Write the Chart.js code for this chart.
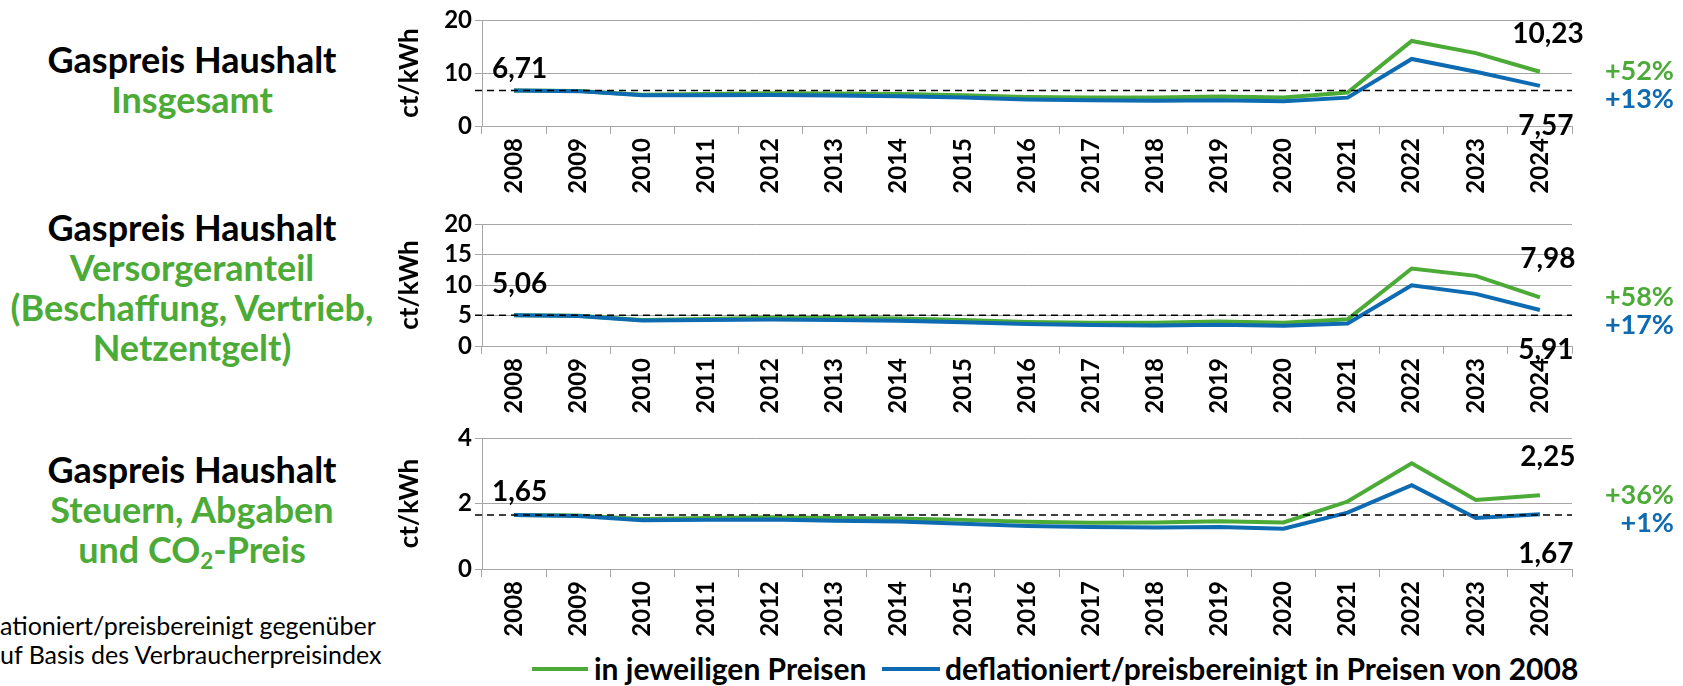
<!DOCTYPE html>
<html><head><meta charset="utf-8">
<script src="https://cdn.jsdelivr.net/npm/chart.js@4.4.1/dist/chart.umd.min.js"></script>
<style>
html,body{margin:0;padding:0;background:#fff;}
body{width:1683px;height:686px;overflow:hidden;position:relative;font-family:Lato,'Open Sans',sans-serif;}
canvas.cv{position:absolute;left:0;}
.title{position:absolute;left:7px;width:370px;text-align:center;font-weight:bold;font-size:36px;line-height:40px;color:#000;}
.g{color:#4CAB37}
sub{font-size:0.62em;line-height:0;vertical-align:-0.28em;}
.note{position:absolute;left:0;top:611px;font-size:25px;line-height:29px;color:#000;white-space:nowrap;}
.legend{position:absolute;top:650px;left:0;height:36px;width:1683px;font-weight:bold;font-size:30px;color:#000;}
.legend .sw{position:absolute;height:4px;top:17px;}
.legend .tx{position:absolute;top:0;line-height:36px;white-space:nowrap;}
</style></head>
<body>
<div class="title" style="top:39px">Gaspreis Haushalt<br><span class="g">Insgesamt</span></div>
<div class="title" style="top:207px">Gaspreis Haushalt<br><span class="g">Versorgeranteil<br>(Beschaffung, Vertrieb,<br>Netzentgelt)</span></div>
<div class="title" style="top:449px">Gaspreis Haushalt<br><span class="g">Steuern, Abgaben<br>und CO<sub>2</sub>-Preis</span></div>
<div class="note">ationiert/preisbereinigt gegenüber<br>uf Basis des Verbraucherpreisindex</div>
<canvas id="c1" class="cv" width="1683" height="196" style="top:0px"></canvas>
<canvas id="c2" class="cv" width="1683" height="212" style="top:204px"></canvas>
<canvas id="c3" class="cv" width="1683" height="221" style="top:418px"></canvas>
<div class="legend">
  <div class="sw" style="left:532px;width:56px;background:#4CAB37"></div>
  <div class="tx" style="left:594px">in jeweiligen Preisen</div>
  <div class="sw" style="left:882px;width:58px;background:#0E6BB1"></div>
  <div class="tx" style="left:945px">deflationiert/preisbereinigt in Preisen von 2008</div>
</div>
<script>
const years = ['2008','2009','2010','2011','2012','2013','2014','2015','2016','2017','2018','2019','2020','2021','2022','2023','2024'];

const gesamtNominal = [6.71, 6.62, 5.88, 6.02, 6.18, 6.15, 6.05, 5.82, 5.48, 5.36, 5.36, 5.55, 5.38, 6.32, 16.05, 13.75, 10.23];
const gesamtReal    = [6.71, 6.58, 5.78, 5.82, 5.86, 5.74, 5.60, 5.36, 5.02, 4.84, 4.76, 4.85, 4.66, 5.35, 12.65, 10.25, 7.57];

const versorgerNominal = [5.06, 4.95, 4.28, 4.42, 4.62, 4.58, 4.50, 4.25, 3.95, 3.82, 3.82, 4.00, 3.82, 4.38, 12.70, 11.50, 7.98];
const versorgerReal    = [5.06, 4.92, 4.20, 4.26, 4.36, 4.26, 4.15, 3.90, 3.60, 3.44, 3.38, 3.48, 3.30, 3.68, 9.95, 8.55, 5.91];

const steuernNominal = [1.65, 1.63, 1.53, 1.56, 1.58, 1.56, 1.54, 1.50, 1.44, 1.41, 1.42, 1.46, 1.42, 2.06, 3.23, 2.11, 2.25];
const steuernReal    = [1.65, 1.62, 1.49, 1.50, 1.51, 1.47, 1.45, 1.38, 1.31, 1.28, 1.27, 1.28, 1.23, 1.72, 2.56, 1.56, 1.67];

const ticksGesamt    = [0, 10, 20];
const ticksVersorger = [0, 5, 10, 15, 20];
const ticksSteuern   = [0, 2, 4];

const seriesNames = ['in jeweiligen Preisen', 'deflationiert/preisbereinigt in Preisen von 2008'];
const unitLabel = 'ct/kWh';

const GREEN = '#4CAB37', BLUE = '#0E6BB1', GRID = '#A6A6A6';
const FONT = 'Lato';

const fmt = v => v.toFixed(2).replace('.', ',');
const pct = v => (v >= 0 ? '+' : '') + Math.round(v) + '%';

const annot = {
  id: 'annot',
  afterDatasetsDraw(chart, args, opts) {
    const {ctx, chartArea, scales: {x, y}} = chart;
    const g = chart.data.datasets[0].data, b = chart.data.datasets[1].data;
    const base = g[0];
    const by = y.getPixelForValue(base);
    ctx.save();
    ctx.strokeStyle = '#000'; ctx.lineWidth = 1.5; ctx.setLineDash([7, 5]);
    ctx.beginPath(); ctx.moveTo(chartArea.left - 7, by); ctx.lineTo(chartArea.right, by); ctx.stroke();
    ctx.setLineDash([]);
    ctx.font = 'bold 28px ' + FONT; ctx.fillStyle = '#000'; ctx.textBaseline = 'middle';
    const x0 = x.getPixelForValue(0);
    ctx.textAlign = 'left';
    ctx.fillText(fmt(base), x0 - 22, y.getPixelForValue(b[0]) - opts.startDy);
    const n = g.length - 1;
    const xn = x.getPixelForValue(n);
    const gy = y.getPixelForValue(g[n]), bly = y.getPixelForValue(b[n]);
    ctx.textAlign = 'center';
    ctx.fillText(fmt(g[n]), xn + 8, gy - 38);
    ctx.fillText(fmt(b[n]), xn + 6, bly + 40);
    ctx.textAlign = 'right'; ctx.font = 'bold 27px ' + FONT;
    const py1 = gy, py2 = Math.max(bly, gy + 28);
    ctx.fillStyle = GREEN; ctx.fillText(pct((g[n] / base - 1) * 100), chartArea.right + 102, py1);
    ctx.fillStyle = BLUE;  ctx.fillText(pct((b[n] / base - 1) * 100), chartArea.right + 102, py2);
    ctx.restore();
  }
};

function makeChart(id, nominal, real, tickValues, startDy) {
  return new Chart(document.getElementById(id), {
    type: 'line',
    data: {
      labels: years,
      datasets: [
        {label: seriesNames[0], data: nominal, borderColor: GREEN, backgroundColor: GREEN, borderWidth: 4, pointRadius: 0, tension: 0, order: 2},
        {label: seriesNames[1], data: real, borderColor: BLUE, backgroundColor: BLUE, borderWidth: 4, pointRadius: 0, tension: 0, order: 1}
      ]
    },
    options: {
      responsive: false, animation: false, devicePixelRatio: 1,
      layout: {padding: {left: 397, right: 111, top: 20, bottom: 0}},
      plugins: {legend: {display: false}, tooltip: {enabled: false}, annot: {startDy: startDy}},
      scales: {
        x: {
          offset: true,
          grid: {offset: true, drawOnChartArea: false, drawTicks: true, tickLength: 8, color: GRID},
          border: {display: true, color: GRID, width: 1},
          ticks: {autoSkip: false, minRotation: 90, maxRotation: 90, padding: 4, color: '#000', font: {family: FONT, weight: 'bold', size: 24}},
          afterFit(s) { s.height = 70; }
        },
        y: {
          min: tickValues[0], max: tickValues[tickValues.length - 1],
          afterBuildTicks(s) { s.ticks = tickValues.map(v => ({value: v})); },
          ticks: {autoSkip: false, padding: 3, color: '#000', font: {family: FONT, weight: 'bold', size: 24}},
          grid: {color: GRID, lineWidth: 1, tickLength: 7},
          border: {display: true, color: GRID, width: 1},
          title: {display: true, text: unitLabel, color: '#000', padding: 0, font: {family: FONT, weight: 'bold', size: 26, lineHeight: 1}},
          afterFit(s) { s.width = 85; }
        }
      }
    },
    plugins: [annot]
  });
}

makeChart('c1', gesamtNominal, gesamtReal, ticksGesamt, 21);
makeChart('c2', versorgerNominal, versorgerReal, ticksVersorger, 31);
makeChart('c3', steuernNominal, steuernReal, ticksSteuern, 23);
</script>
</body></html>
